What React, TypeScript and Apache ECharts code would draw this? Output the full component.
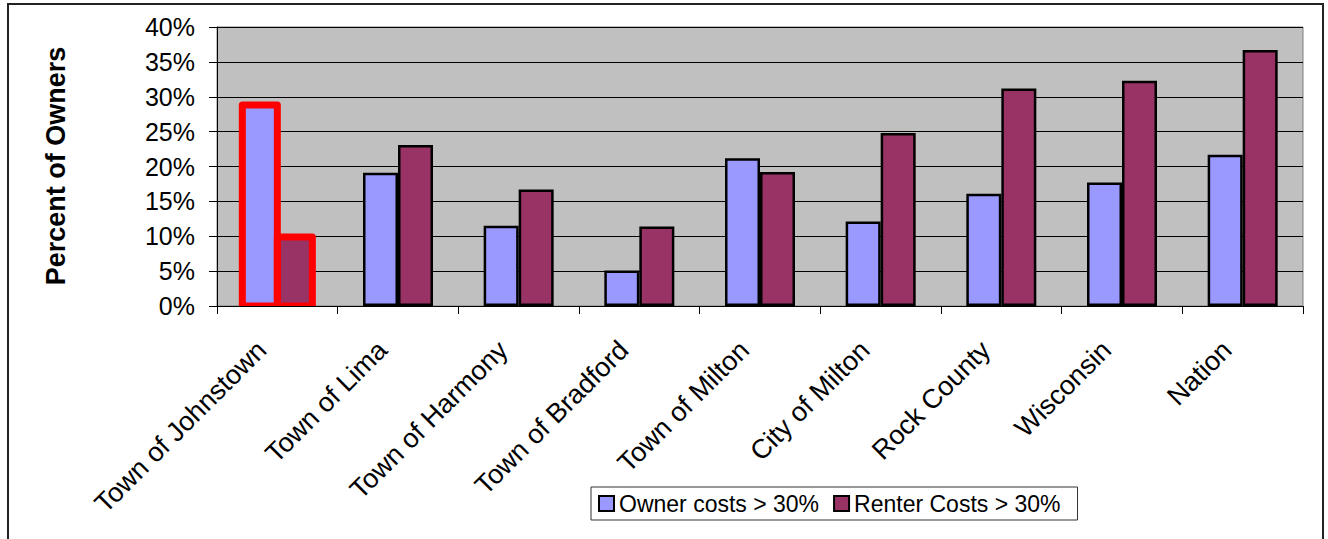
import React, { useEffect, useRef } from "react";
import * as echarts from "echarts";

const categories = [
  "Town of Johnstown",
  "Town of Lima",
  "Town of Harmony",
  "Town of Bradford",
  "Town of Milton",
  "City of Milton",
  "Rock County",
  "Wisconsin",
  "Nation",
];
const ownerCosts = [28.8, 19.1, 11.5, 5.1, 21.2, 12.1, 16.1, 17.7, 21.7];
const renterCosts = [9.9, 23.1, 16.7, 11.4, 19.2, 24.8, 31.2, 32.3, 36.7];
const seriesNames = ["Owner costs > 30%", "Renter Costs > 30%"];
const yTicks = { min: 0, max: 40, interval: 5 };
const highlightIndex = 0;

const FONT = "'Liberation Sans', Arial, sans-serif";
const BAR_W = 35;

export default function App() {
  const ref = useRef<HTMLDivElement>(null);
  useEffect(() => {
    if (!ref.current) return;
    const chart = echarts.init(ref.current, null, { renderer: "svg" });
    chart.setOption({
      animation: false,
      backgroundColor: "#FFFFFF",
      textStyle: { fontFamily: FONT },
      grid: {
        left: 217,
        top: 27,
        width: 1086,
        height: 279,
        show: true,
        backgroundColor: "#C0C0C0",
        borderColor: "#808080",
        borderWidth: 1,
      },
      legend: {
        left: 591,
        top: 487,
        itemWidth: 15,
        itemHeight: 15,
        itemGap: 14,
        padding: [5, 17, 5, 7],
        borderColor: "#333",
        borderWidth: 1,
        backgroundColor: "#FFFFFF",
        textStyle: { fontSize: 23, color: "#000", fontFamily: FONT },
        data: seriesNames.map((n) => ({ name: n, icon: "rect" })),
        itemStyle: { borderColor: "#000", borderWidth: 2 },
      },
      xAxis: {
        type: "category",
        data: categories,
        boundaryGap: true,
        axisLine: { lineStyle: { color: "#000", width: 1 } },
        axisTick: { show: true, length: 8, inside: false, lineStyle: { color: "#000" } },
        axisLabel: {
          rotate: 45,
          interval: 0,
          margin: 24,
          fontSize: 27,
          color: "#000",
          fontFamily: FONT,
          padding: [0, 22, 0, 0],
        },
      },
      yAxis: {
        type: "value",
        min: yTicks.min,
        max: yTicks.max,
        interval: yTicks.interval,
        axisLine: { show: true, lineStyle: { color: "#000", width: 1 } },
        axisTick: { show: true, length: 8, lineStyle: { color: "#000" } },
        axisLabel: {
          formatter: "{value}%",
          fontSize: 25,
          color: "#000",
          margin: 22,
          fontFamily: FONT,
        },
        splitLine: { show: true, lineStyle: { color: "#000", width: 1 } },
      },
      graphic: [
        {
          type: "text",
          x: 55.5,
          y: 166,
          rotation: Math.PI / 2,
          style: {
            text: "Percent of Owners",
            font: `bold 27px ${FONT}`,
            fill: "#000",
            textAlign: "center",
            textVerticalAlign: "middle",
          },
        },
        {
          type: "rect",
          shape: { x: 8, y: 4, width: 1315, height: 560 },
          style: { fill: "none", stroke: "#222", lineWidth: 2 },
          z: 100,
        },
      ],
      series: [
        {
          name: seriesNames[0],
          type: "bar",
          data: ownerCosts,
          barWidth: BAR_W,
          barGap: "0%",
          itemStyle: { color: "#9999FF", borderColor: "#000", borderWidth: 2.5 },
        },
        {
          name: seriesNames[1],
          type: "bar",
          data: renterCosts,
          barWidth: BAR_W,
          barGap: "0%",
          itemStyle: { color: "#993366", borderColor: "#000", borderWidth: 2.5 },
        },
        {
          name: "highlight",
          type: "custom",
          clip: true,
          z: 10,
          data: [[highlightIndex, ownerCosts[highlightIndex], renterCosts[highlightIndex]]],
          renderItem: (params: any, api: any) => {
            const idx = api.value(0);
            const base = api.coord([idx, 0]);
            const oTop = api.coord([idx, api.value(1)])[1];
            const rTop = api.coord([idx, api.value(2)])[1];
            const cx = base[0];
            const by = base[1];
            const st = { fill: "none", stroke: "#FF0000", lineWidth: 7, lineJoin: "round" };
            return {
              type: "group",
              children: [
                {
                  type: "rect",
                  shape: { x: cx - BAR_W, y: oTop, width: BAR_W, height: by - oTop },
                  style: st,
                },
                {
                  type: "rect",
                  shape: { x: cx, y: rTop, width: BAR_W, height: by - rTop },
                  style: st,
                },
              ],
            };
          },
        },
      ],
    });
    return () => chart.dispose();
  }, []);
  return (
    <div
      ref={ref}
      style={{ position: "absolute", left: 0, top: 0, width: 1328, height: 539 }}
    />
  );
}
